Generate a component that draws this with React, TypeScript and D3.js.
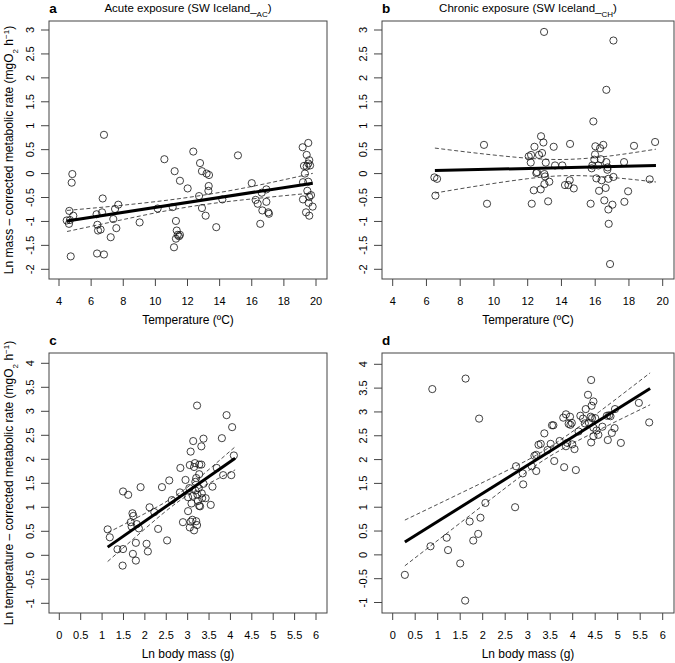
import React from "react";
import * as d3 from "d3";

// ---------- Panel a: Acute exposure ----------
const aTemp = [4.48,4.64,4.62,4.68,4.83,4.79,4.89,4.73,6.34,6.39,6.43,6.59,6.37,6.8,6.68,6.72,6.8,7.22,7.38,7.49,7.57,7.69,9.02,10.14,10.56,11.08,11.16,11.2,11.28,11.33,11.28,11.39,11.53,11.47,11.53,12.01,12.36,12.72,12.78,12.9,12.9,13.13,13.19,13.34,13.32,13.3,13.79,14.17,15.14,16.0,16.24,16.37,16.53,16.62,16.66,16.91,16.91,17.03,17.07,19.17,19.25,19.31,19.19,19.19,19.38,19.42,19.52,19.52,19.58,19.63,19.46,19.52,19.54,19.58,19.69,19.79,19.58,19.42];
const aRate = [-0.98,-0.78,-1.05,-0.97,-0.01,-0.19,-0.88,-1.73,-0.85,-1.07,-1.19,-1.17,-1.67,-1.69,-0.81,-0.52,0.81,-1.33,-0.95,-0.74,-1.14,-0.65,-1.02,-0.73,0.3,-0.7,-1.54,0.05,-0.99,-1.19,-1.36,-1.28,-1.28,-1.31,-0.15,-0.31,0.46,-0.47,0.22,0.05,-0.72,-0.88,0.0,-0.03,-0.26,-0.36,-1.12,-0.54,0.38,-0.2,-0.55,-0.63,-1.05,-0.4,-0.77,-0.33,-0.59,-0.81,-0.84,0.55,0.16,0.0,-0.18,-0.54,-0.81,0.39,0.64,0.21,0.28,0.17,-0.36,-0.17,-0.61,-0.88,-0.45,-0.69,-0.49,0.15];
const aFitX = [4.5, 19.8];
const aFitY = [-0.99, -0.2];
const aCiX = [4.5, 8, 12, 16, 19.8];
const aCiUp = [-0.77, -0.66, -0.5, -0.27, 0.005];
const aCiLo = [-1.21, -0.96, -0.7, -0.53, -0.405];

// ---------- Panel b: Chronic exposure ----------
const bTemp = [6.47,6.63,6.53,9.41,9.59,12.06,12.2,12.18,12.24,12.36,12.4,12.51,12.55,12.67,12.79,12.85,12.77,12.93,12.97,12.99,13.03,12.99,13.07,13.21,13.28,13.54,13.62,14.05,14.21,14.41,14.51,14.49,14.73,15.73,15.79,15.83,15.89,15.95,16.01,15.99,16.07,16.19,16.29,16.23,16.33,16.38,16.48,16.54,16.62,16.66,16.66,16.74,16.72,16.78,16.78,16.8,16.88,17.02,17.08,17.08,17.71,17.73,17.95,18.3,19.23,19.55];
const bRate = [-0.08,-0.11,-0.46,0.6,-0.63,0.36,0.39,0.23,-0.63,-0.35,0.56,0.01,0.03,0.39,0.78,0.43,-0.33,0.65,2.96,-0.01,-0.06,-0.22,0.23,-0.58,-0.17,0.56,0.17,0.17,-0.24,-0.24,0.62,-0.14,-0.31,-0.63,0.11,0.17,1.09,0.29,0.57,0.4,-0.1,0.17,0.53,-0.36,0.3,-0.14,0.6,-0.56,-0.3,1.75,0.24,0.13,0.08,-0.11,-0.75,-1.05,-1.89,-0.65,-0.07,2.78,0.24,-0.59,-0.37,0.58,-0.12,0.66];
const bFitX = [6.5, 19.6];
const bFitY = [0.063, 0.167];
const bCiX = [6.5, 9, 12, 14.5, 17, 19.6];
const bCiUp = [0.533, 0.426, 0.321, 0.298, 0.374, 0.51];
const bCiLo = [-0.407, -0.26, -0.107, -0.042, -0.082, -0.176];

// ---------- Panel c: body mass (acute) ----------
const cMass = [1.13,1.18,1.36,1.48,1.49,1.49,1.61,1.67,1.71,1.73,1.72,1.69,1.79,1.79,1.81,1.86,1.9,2.04,2.07,2.11,2.22,2.31,2.4,2.52,2.57,2.63,2.82,2.83,2.89,2.95,3.01,3.01,3.04,3.05,3.05,3.07,3.07,3.09,3.11,3.12,3.13,3.15,3.15,3.17,3.18,3.18,3.2,3.2,3.22,3.22,3.23,3.24,3.26,3.27,3.27,3.27,3.29,3.32,3.32,3.33,3.34,3.37,3.37,3.42,3.54,3.58,3.68,3.8,3.83,3.91,4.02,4.04,4.08];
const cRate = [0.54,0.375,0.125,-0.215,0.13,1.33,1.26,0.69,0.875,0.82,0.03,0.6,0.26,-0.11,0.65,0.56,1.42,0.24,0.08,1.0,0.9,0.55,1.42,0.31,1.56,1.15,1.31,1.82,0.69,1.57,1.21,0.92,1.4,0.58,1.88,2.16,0.7,1.08,0.74,1.24,2.38,1.84,0.52,1.92,1.53,1.35,0.71,1.61,0.63,3.12,1.26,1.13,1.4,1.03,1.69,1.89,1.02,2.27,1.89,1.29,1.19,1.49,2.43,1.19,1.05,1.43,1.82,2.44,1.67,2.92,1.67,2.67,2.08];
const cFitX = [1.13, 4.11];
const cFitY = [0.17, 2.02];
const cCiX = [1.13, 2, 2.8, 3.5, 4.11];
const cCiUp = [0.47, 0.87, 1.29, 1.79, 2.26];
const cCiLo = [-0.13, 0.55, 1.13, 1.5, 1.78];

// ---------- Panel d: body mass (chronic) ----------
const dMass = [0.27,0.84,0.88,1.2,1.23,1.5,1.62,1.61,1.71,1.79,1.9,1.92,1.95,2.06,2.72,2.74,2.89,2.9,3.09,3.15,3.19,3.19,3.24,3.29,3.37,3.44,3.51,3.54,3.57,3.59,3.71,3.79,3.81,3.85,3.85,3.88,3.91,3.94,3.95,3.98,3.99,4.04,4.07,4.13,4.17,4.23,4.27,4.29,4.34,4.36,4.4,4.41,4.42,4.41,4.43,4.46,4.46,4.46,4.5,4.53,4.57,4.66,4.76,4.78,4.81,4.84,4.87,4.93,4.94,5.07,5.47,5.7];
const dRate = [-0.42,0.18,3.48,0.36,0.1,-0.18,3.7,-0.96,0.7,0.3,0.44,2.86,0.78,1.09,1.0,1.86,1.71,1.48,1.86,2.08,1.76,2.1,2.31,2.33,2.55,2.2,2.33,2.72,2.72,1.97,2.39,2.88,1.84,2.95,2.28,2.35,2.75,2.9,2.73,2.77,2.32,2.22,1.78,2.59,2.92,2.86,2.76,3.06,3.36,2.77,2.9,3.67,3.13,2.36,2.87,3.22,2.49,2.67,2.87,2.61,2.52,2.69,2.92,2.41,2.93,2.91,2.56,2.66,3.06,2.35,3.19,2.78];
const dFitX = [0.27, 5.72];
const dFitY = [0.27, 3.49];
const dCiX = [0.27, 1.5, 2.75, 3.6, 4.6, 5.72];
const dCiUp = [0.73, 1.29, 1.87, 2.33, 3.01, 3.82];
const dCiLo = [-0.23, 0.67, 1.58, 2.13, 2.63, 3.15];

const tempTicks = [4, 6, 8, 10, 12, 14, 16, 18, 20];
const tempYTicks = [-2, -1.5, -1, -0.5, 0, 0.5, 1, 1.5, 2, 2.5, 3];
const massTicks = [0, 0.5, 1, 1.5, 2, 2.5, 3, 3.5, 4, 4.5, 5, 5.5, 6];
const massYTicks = [-1, -0.5, 0, 0.5, 1, 1.5, 2, 2.5, 3, 3.5, 4];

const FONT = "'Liberation Sans', Arial, Helvetica, sans-serif";

type PanelProps = {
  letter: string;
  title?: React.ReactNode;
  xs: number[]; ys: number[];
  fitX: number[]; fitY: number[];
  ciX: number[]; ciUp: number[]; ciLo: number[];
  xDomain: [number, number]; yDomain: [number, number];
  xRange: [number, number]; yRange: [number, number];
  box: { l: number; r: number; t: number; b: number };
  xTicks: number[]; yTicks: number[];
  xLabel: string;
  yLabel?: React.ReactNode;
};

function Panel(p: PanelProps) {
  const x = d3.scaleLinear().domain(p.xDomain).range(p.xRange);
  const y = d3.scaleLinear().domain(p.yDomain).range(p.yRange);
  const line = d3.line<[number, number]>().x(d => x(d[0])).y(d => y(d[1]));
  const curve = d3.line<[number, number]>().x(d => x(d[0])).y(d => y(d[1])).curve(d3.curveNatural);
  const fit = line(p.fitX.map((v, i) => [v, p.fitY[i]] as [number, number])) || "";
  const up = curve(p.ciX.map((v, i) => [v, p.ciUp[i]] as [number, number])) || "";
  const lo = curve(p.ciX.map((v, i) => [v, p.ciLo[i]] as [number, number])) || "";
  const { l, r, t, b } = p.box;
  const fmt = (v: number) => (v < 0 ? "-" + Math.abs(v) : String(v));
  return (
    <g>
      <text x={l + 4} y={t - 8} fontFamily={FONT} fontWeight="bold" fontSize={13.5} textAnchor="middle">{p.letter}</text>
      {p.title && (
        <text x={(l + r) / 2} y={t - 9} fontFamily={FONT} fontSize={11.5} textAnchor="middle">{p.title}</text>
      )}
      {p.xs.map((v, i) => (
        <circle key={i} cx={x(v)} cy={y(p.ys[i])} r={3.6} fill="none" stroke="#111" strokeWidth={0.8} />
      ))}
      <path d={up} fill="none" stroke="#222" strokeWidth={0.8} strokeDasharray="4,2.5" />
      <path d={lo} fill="none" stroke="#222" strokeWidth={0.8} strokeDasharray="4,2.5" />
      <path d={fit} fill="none" stroke="#000" strokeWidth={3} />
      <rect x={l} y={t} width={r - l} height={b - t} fill="none" stroke="#444" strokeWidth={1} />
      {p.xTicks.map(v => (
        <g key={"x" + v}>
          <line x1={x(v)} x2={x(v)} y1={b} y2={b + 7} stroke="#444" />
          <text x={x(v)} y={b + 26} fontFamily={FONT} fontSize={11} textAnchor="middle">{fmt(v)}</text>
        </g>
      ))}
      {p.yTicks.map(v => (
        <g key={"y" + v}>
          <line x1={l} x2={l - 8} y1={y(v)} y2={y(v)} stroke="#444" />
          <text transform={`translate(${l - 15},${y(v)}) rotate(-90)`} fontFamily={FONT} fontSize={11} textAnchor="middle">{fmt(v)}</text>
        </g>
      ))}
      <text x={(l + r) / 2} y={b + 45} fontFamily={FONT} fontSize={12} textAnchor="middle">{p.xLabel}</text>
      {p.yLabel && (
        <text transform={`translate(13,${(t + b) / 2}) rotate(-90)`} fontFamily={FONT} fontSize={12} textAnchor="middle">{p.yLabel}</text>
      )}
    </g>
  );
}

const sub = (s: string) => <tspan fontSize={8} baselineShift="sub">{s}</tspan>;
const sup = (s: string) => <tspan fontSize={8} baselineShift="super">{s}</tspan>;

export default function App() {
  const boxA = { l: 49, r: 327, t: 21, b: 279 };
  const boxB = { l: 382, r: 674, t: 21, b: 279 };
  const boxC = { l: 49, r: 327, t: 353, b: 613 };
  const boxD = { l: 382, r: 674, t: 353, b: 613 };
  return (
    <svg width={675} height={663} style={{ position: "absolute", left: 0, top: 0, background: "#fff" }}>
      <rect width={675} height={663} fill="#fff" />
      <Panel letter="a" title={<>Acute exposure (SW Iceland_{sub("AC")})</>}
        xs={aTemp} ys={aRate} fitX={aFitX} fitY={aFitY} ciX={aCiX} ciUp={aCiUp} ciLo={aCiLo}
        xDomain={[4, 20]} yDomain={[-2, 3]} xRange={[59, 316]} yRange={[269.3, 30]} box={boxA}
        xTicks={tempTicks} yTicks={tempYTicks} xLabel="Temperature (ºC)"
        yLabel={<>Ln mass – corrected metabolic rate (mgO{sub("2")} h{sup("−1")})</>} />
      <Panel letter="b" title={<>Chronic exposure (SW Iceland_{sub("CH")})</>}
        xs={bTemp} ys={bRate} fitX={bFitX} fitY={bFitY} ciX={bCiX} ciUp={bCiUp} ciLo={bCiLo}
        xDomain={[4, 20]} yDomain={[-2, 3]} xRange={[392.7, 662.7]} yRange={[269.3, 30]} box={boxB}
        xTicks={tempTicks} yTicks={tempYTicks} xLabel="Temperature (ºC)" />
      <Panel letter="c"
        xs={cMass} ys={cRate} fitX={cFitX} fitY={cFitY} ciX={cCiX} ciUp={cCiUp} ciLo={cCiLo}
        xDomain={[0, 6]} yDomain={[-1, 4]} xRange={[59.3, 316]} yRange={[603.3, 363.3]} box={boxC}
        xTicks={massTicks} yTicks={massYTicks} xLabel="Ln body mass (g)"
        yLabel={<>Ln temperature – corrected metabolic rate (mgO{sub("2")} h{sup("−1")})</>} />
      <Panel letter="d"
        xs={dMass} ys={dRate} fitX={dFitX} fitY={dFitY} ciX={dCiX} ciUp={dCiUp} ciLo={dCiLo}
        xDomain={[0, 6]} yDomain={[-1, 4]} xRange={[392.7, 662.7]} yRange={[602.5, 364.3]} box={boxD}
        xTicks={massTicks} yTicks={massYTicks} xLabel="Ln body mass (g)" />
    </svg>
  );
}
